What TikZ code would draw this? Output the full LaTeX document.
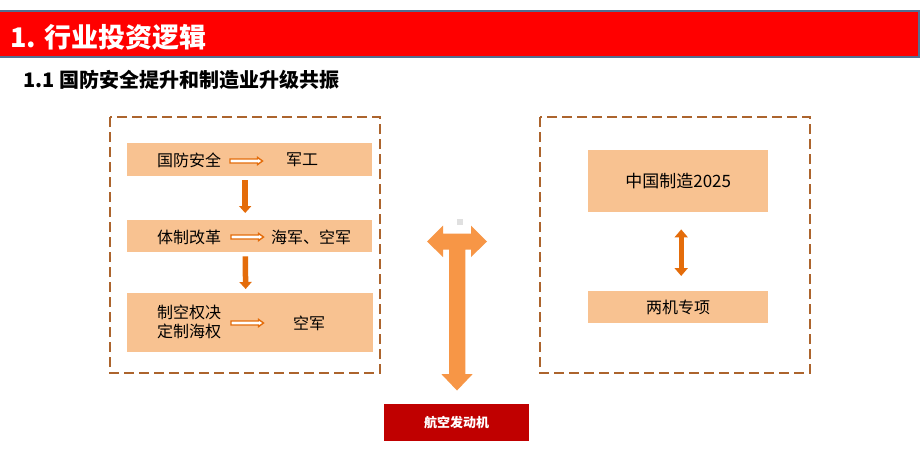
\documentclass[tikz,border=0pt]{standalone}
\usepackage{fontspec}
\setmainfont{Noto Sans CJK SC}
\usetikzlibrary{arrows.meta}
\definecolor{hdrred}{RGB}{255,0,0}
\definecolor{hdrline}{RGB}{84,110,145}
\definecolor{boxfill}{RGB}{248,194,145}
\definecolor{darkor}{RGB}{228,108,10}
\definecolor{bigor}{RGB}{247,150,70}
\definecolor{dashbrown}{RGB}{172,100,45}
\definecolor{engred}{RGB}{192,0,0}
\tikzset{
  fs/.style={font=\fontsize{#1pt}{#1pt}\selectfont},
  dashbox/.style={draw=dashbrown, line width=1.3pt, dash pattern=on 10pt off 5pt},
  fillbox/.style={fill=boxfill, draw=none, inner sep=0pt},
  txt/.style={fs=16, text=black, inner sep=0pt},
  downarrow/.style={draw=darkor, line width=5.5pt, -{Triangle[width=12pt,length=7pt]}},
  dblarrow/.style={draw=darkor, line width=5pt, {Triangle[width=13pt,length=8pt]}-{Triangle[width=13pt,length=8pt]}},
  hollow/.style={draw=darkor, fill=white, line width=1.4pt, line join=miter},
}
\newcommand{\hollowarrow}[2]{%
  \draw[hollow] (#1,#2-2) -- (#1+27.5,#2-2) -- (#1+27.5,#2-3.6) -- (#1+32.5,#2) -- (#1+27.5,#2+3.6) -- (#1+27.5,#2+2) -- (#1,#2+2) -- cycle;}
\begin{document}
\begin{tikzpicture}[x=1pt,y=-1pt]
\useasboundingbox (0,0) rectangle (920,451);
\fill[white] (0,0) rectangle (920,451);
% header
\draw[fill=hdrred, draw=hdrline, line width=1.5pt] (-2,11) rectangle (919,57);
\node[anchor=west, text=white, font=\bfseries\fontsize{27pt}{27pt}\selectfont, inner sep=0pt] (title) at (10,37) {1. 行业投资逻辑};
\node[anchor=west, text=black, font=\bfseries\fontsize{20pt}{20pt}\selectfont, inner sep=0pt] (subtitle) at (23,80) {1.1 国防安全提升和制造业升级共振};
% left dashed frame
\draw[dashbox] (110,117) rectangle (380,373);
\node[fillbox, anchor=north west, minimum width=245pt, minimum height=33pt] (b1) at (127,143) {};
\node[fillbox, anchor=north west, minimum width=245pt, minimum height=32pt] (b2) at (127,220) {};
\node[fillbox, anchor=north west, minimum width=246pt, minimum height=59pt] (b3) at (127,293) {};
\node[txt] (t1a) at (189,160) {国防安全};
\node[txt] (t1b) at (302,160) {军工};
\node[txt] (t2a) at (189,237) {体制改革};
\node[txt] (t2b) at (311,237) {海军、空军};
\node[txt, align=center] (t3a) at (189,322) {制空权决\\[3pt]定制海权};
\node[txt] (t3b) at (309,323) {空军};
\hollowarrow{230}{161}
\hollowarrow{231}{237}
\hollowarrow{231}{323}
\draw[downarrow, shorten <=4pt, shorten >=7pt] ([xshift=-4.5pt]b1.south) -- ([xshift=-4.5pt]b2.north);
\draw[downarrow, shorten <=4pt, shorten >=4pt] ([xshift=-4.5pt]b2.south) -- ([xshift=-4.5pt]b3.north);
% right dashed frame
\draw[dashbox] (540,117) rectangle (810,373);
\node[fillbox, anchor=north west, minimum width=180pt, minimum height=62pt] (c1) at (588,150) {};
\node[fillbox, anchor=north west, minimum width=180pt, minimum height=32pt] (c2) at (588,291) {};
\node[txt, fs=17] at (c1.center) {中国制造2025};
\node[txt] at (c2.center) {两机专项};
\draw[dblarrow, shorten <=17pt, shorten >=15pt] ([xshift=3pt]c1.south) -- ([xshift=3pt]c2.north);
% central T arrow
\fill[bigor] (427,241.5) -- (443,225.5) -- (443,233.5) -- (471,233.5) -- (471,225.5) -- (487,241.5)
  -- (471,257) -- (471,249.5) -- (465.3,249.5) -- (465.3,374) -- (472.7,374) -- (457,390.5)
  -- (441.3,374) -- (449,374) -- (449,249.5) -- (443,249.5) -- (443,257) -- cycle;
\fill[black!12] (457.3,219.3) rectangle (462.7,225);
% engine box
\node[fill=engred, anchor=north west, minimum width=145pt, minimum height=37pt, inner sep=0pt] (eng) at (384,404) {};
\node[text=white, font=\bfseries\fontsize{13pt}{13pt}\selectfont, inner sep=0pt] at (eng.center) {航空发动机};
\end{tikzpicture}
\end{document}
